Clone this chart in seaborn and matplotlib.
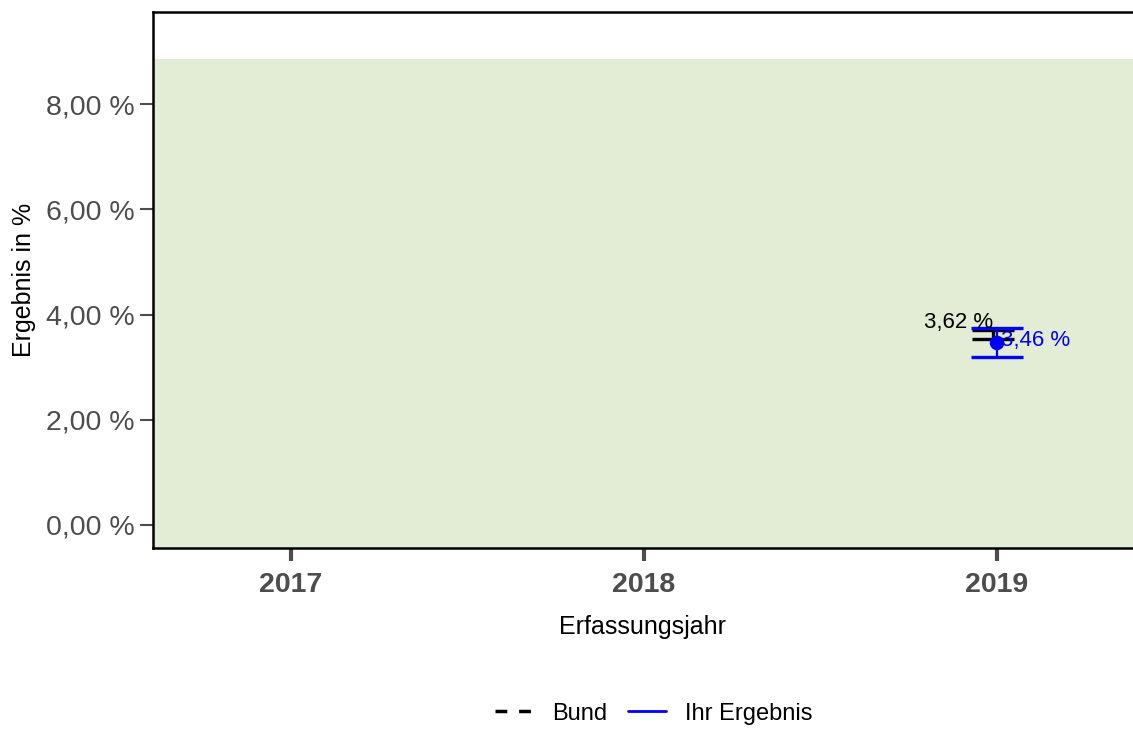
import matplotlib
matplotlib.use("Agg")
import matplotlib.pyplot as plt
import seaborn as sns
import pandas as pd
from matplotlib.lines import Line2D

# data
years = [2017, 2018, 2019]
bund_year = [2019]
bund_value = [3.62]
bund_lower = [3.54]
bund_upper = [3.71]
ihr_year = [2019]
ihr_value = [3.46]
ihr_lower = [3.19]
ihr_upper = [3.74]
ref_band = (-1.0, 8.85)
y_ticks = [0, 2, 4, 6, 8]

sns.set_theme(style="white")
plt.rcParams["font.family"] = ["Liberation Sans", "DejaVu Sans"]

fig = plt.figure(figsize=(11.33, 7.29), dpi=100)
ax = fig.add_axes([0.135, 0.2483, 0.865, 0.735])

ax.axhspan(ref_band[0], ref_band[1], color="#E3ECD4", zorder=0, lw=0)

bund = pd.DataFrame({"year": bund_year, "value": bund_value,
                     "lo": bund_lower, "hi": bund_upper})
ihr = pd.DataFrame({"year": ihr_year, "value": ihr_value,
                    "lo": ihr_lower, "hi": ihr_upper})

# Bund: black interval
ax.errorbar(bund["year"] - 0.01, bund["value"],
            yerr=[bund["value"] - bund["lo"], bund["hi"] - bund["value"]],
            fmt="none", ecolor="black", elinewidth=2.4, capsize=15,
            capthick=2.4, zorder=3)
# Ihr Ergebnis: blue interval + point
ax.errorbar(ihr["year"], ihr["value"],
            yerr=[ihr["value"] - ihr["lo"], ihr["hi"] - ihr["value"]],
            fmt="none", ecolor="blue", elinewidth=1.6, capsize=19,
            capthick=2.4, zorder=4)
sns.scatterplot(data=ihr, x="year", y="value", color="blue", s=110,
                edgecolor="none", ax=ax, zorder=5, legend=False)

for _, r in bund.iterrows():
    ax.text(r["year"] - 0.11, r["value"] + 0.02, f"{r['value']:.2f} %".replace(".", ","),
            color="black", fontsize=16, ha="center", va="bottom", zorder=6)
for _, r in ihr.iterrows():
    ax.text(r["year"] + 0.11, r["value"] + 0.05, f"{r['value']:.2f} %".replace(".", ","),
            color="blue", fontsize=16, ha="center", va="center", zorder=6)

ax.set_xlim(2016.61, 2019.385)
ax.set_ylim(-0.44, 9.75)
ax.set_xticks(years)
ax.set_xticklabels([str(y) for y in years], fontweight="bold")
ax.set_yticks(y_ticks)
ax.set_yticklabels([f"{v:.2f} %".replace(".", ",") for v in y_ticks])
ax.tick_params(axis="y", colors="#4D4D4D", labelsize=20.5, length=9.5, width=1.5,
               direction="out", left=True, pad=4)
ax.tick_params(axis="x", colors="#4D4D4D", labelsize=20.5, length=9.5, width=3,
               direction="out", bottom=True, pad=8)
ax.set_xlabel("Erfassungsjahr", fontsize=18, labelpad=12, color="black")
ax.set_ylabel("Ergebnis in %", fontsize=18, labelpad=7, color="black")

for side in ["top", "left", "bottom"]:
    ax.spines[side].set_visible(True)
    ax.spines[side].set_color("black")
    ax.spines[side].set_linewidth(1.8)
ax.spines["right"].set_visible(False)

handles = [Line2D([], [], color="black", lw=2.5, ls=(0, (3.4, 3.4))),
           Line2D([], [], color="blue", lw=2)]
leg = fig.legend(handles, ["Bund", "Ihr Ergebnis"], loc="center",
                 bbox_to_anchor=(0.577, 0.021), ncol=2, frameon=False,
                 fontsize=17, handlelength=1.6, columnspacing=0.9, handletextpad=0.8)
for t in leg.get_texts():
    t.set_color("black")

fig.savefig("out.png", dpi=100)
